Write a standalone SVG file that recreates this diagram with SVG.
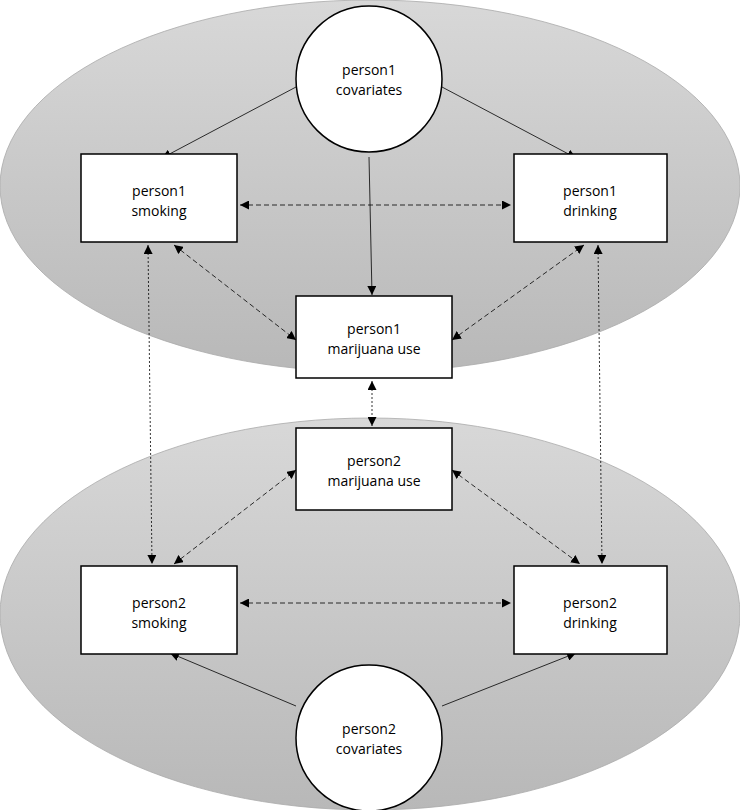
<svg xmlns="http://www.w3.org/2000/svg" width="740" height="810" viewBox="0 0 740 810">
<style>
.n{fill:#fff;stroke:#000;stroke-width:1.5}
text{font-family:"Open Sans","Liberation Sans",sans-serif;font-size:14px;fill:#000;text-anchor:middle}
.c{stroke:#000;stroke-width:0.8;fill:none}
.d{stroke-dasharray:5,3}
.o{stroke-dasharray:2,2}
</style>
<defs>
<linearGradient id="g" x1="0" y1="0" x2="0" y2="1"><stop offset="0" stop-color="#d8d8d8"/><stop offset="1" stop-color="#b8b8b8"/></linearGradient>
<marker id="a" viewBox="0 0 10 10" refX="10" refY="5" markerWidth="9" markerHeight="9" markerUnits="userSpaceOnUse" orient="auto-start-reverse"><path d="M0,0L10,5L0,10z" fill="#000"/></marker>
</defs>
<ellipse cx="370" cy="186" rx="370" ry="186" fill="url(#g)" stroke="#aaa" stroke-width="0.8"/>
<ellipse cx="370" cy="614" rx="370" ry="196" fill="url(#g)" stroke="#aaa" stroke-width="0.8"/>
<g id="connectors">
<path class="c" d="M296,87L162,158" marker-end="url(#a)"/>
<path class="c" d="M442,87L576,158" marker-end="url(#a)"/>
<path class="c" d="M369,157L372,295" marker-end="url(#a)"/>
<path class="c d" d="M240,205L511,205" marker-start="url(#a)" marker-end="url(#a)"/>
<path class="c d" d="M174,245L296,340" marker-start="url(#a)" marker-end="url(#a)"/>
<path class="c d" d="M452,340L584,245" marker-start="url(#a)" marker-end="url(#a)"/>
<path class="c o" d="M148,245L152,564" marker-start="url(#a)" marker-end="url(#a)"/>
<path class="c o" d="M598,245L602,564" marker-start="url(#a)" marker-end="url(#a)"/>
<path class="c o" d="M372,381L372,426" marker-start="url(#a)" marker-end="url(#a)"/>
<path class="c d" d="M174,564L296,470" marker-start="url(#a)" marker-end="url(#a)"/>
<path class="c d" d="M452,470L580,564" marker-start="url(#a)" marker-end="url(#a)"/>
<path class="c d" d="M240,603L511,603" marker-start="url(#a)" marker-end="url(#a)"/>
<path class="c" d="M296,706L170,653" marker-end="url(#a)"/>
<path class="c" d="M442,706L576,653" marker-end="url(#a)"/>
</g>
<g id="cov1"><circle class="n" cx="369" cy="79" r="73"/><text x="369" y="75">person1</text><text x="369" y="95">covariates</text></g>
<g id="smk1"><rect class="n" x="81" y="154" width="156" height="88"/><text x="159" y="196">person1</text><text x="159" y="216">smoking</text></g>
<g id="drk1"><rect class="n" x="514" y="154" width="153" height="88"/><text x="590" y="196">person1</text><text x="590" y="216">drinking</text></g>
<g id="mar1"><rect class="n" x="296" y="296" width="156" height="82"/><text x="374" y="334">person1</text><text x="374" y="354">marijuana use</text></g>
<g id="mar2"><rect class="n" x="296" y="428" width="156" height="82"/><text x="374" y="466">person2</text><text x="374" y="486">marijuana use</text></g>
<g id="smk2"><rect class="n" x="81" y="566" width="156" height="88"/><text x="159" y="608">person2</text><text x="159" y="628">smoking</text></g>
<g id="drk2"><rect class="n" x="514" y="566" width="153" height="88"/><text x="590" y="608">person2</text><text x="590" y="628">drinking</text></g>
<g id="cov2"><circle class="n" cx="369" cy="738" r="73"/><text x="369" y="734">person2</text><text x="369" y="754">covariates</text></g>
</svg>
